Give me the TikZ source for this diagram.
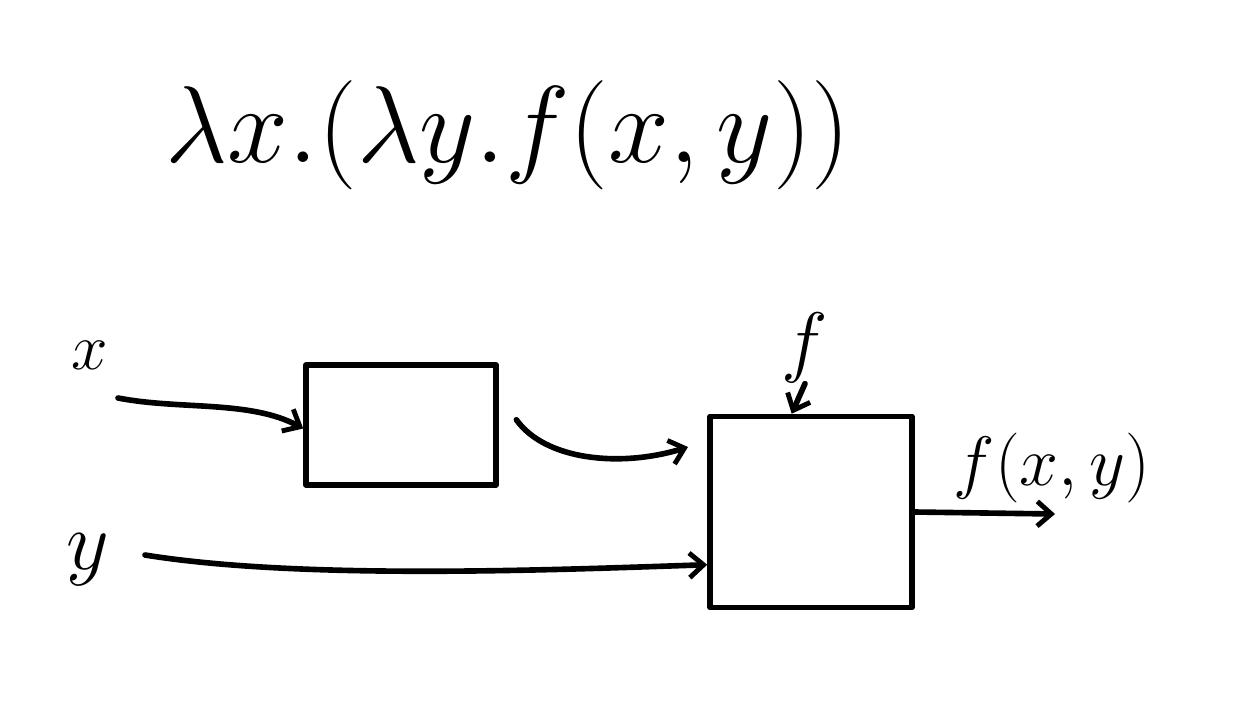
\documentclass[tikz,border=0pt]{standalone}
\usetikzlibrary{arrows.meta}
\begin{document}
\begin{tikzpicture}[x=0.02cm,y=-0.02cm,
  ink/.style={line width=3.2pt,line cap=round,line join=round},
  conn/.style={ink,-{Straight Barb[length=8pt,width=14pt,line width=2.8pt]}},
  boxn/.style={draw,ink,rectangle,inner sep=0pt},
  lbl/.style={inner sep=0pt,font=\Huge}]
\useasboundingbox (0,0) rectangle (1256,700);
\node[lbl,scale=2.5] (title) at (508,135) {$\lambda x.(\lambda y.f(x,y))$};
\node[lbl,scale=1.5] (xl) at (90,355) {$x$};
\node[lbl,scale=1.9] (yl) at (88,560) {$y$};
\node[lbl,scale=1.8] (fl) at (805,348) {$f$};
\node[lbl,scale=1.6] (fxy) at (1052,468) {$f(x,y)$};
\node[boxn,minimum width=3.8cm,minimum height=2.4cm] (b1) at (401,425) {};
\node[boxn,minimum width=4.04cm,minimum height=3.82cm] (b2) at (811,512) {};
\coordinate (xs) at (118,398);
\coordinate (ys) at (145,555);
\coordinate (mid) at (688,447);
\coordinate (out) at (1055,514);
\draw[conn] (xs) .. controls (180,410) and (250,400) .. ([yshift=-2pt]b1.west);
\draw[conn] ([xshift=10pt,yshift=3pt]b1.east) .. controls (545,460) and (620,468) .. (mid);
\draw[conn] (ys) .. controls (300,580) and (550,570) .. ([yshift=-30pt]b2.west);
\draw[conn] (fl.south) -- ([xshift=-11pt]b2.north);
\draw[conn] (b2.east) -- (out);
\end{tikzpicture}
\end{document}
